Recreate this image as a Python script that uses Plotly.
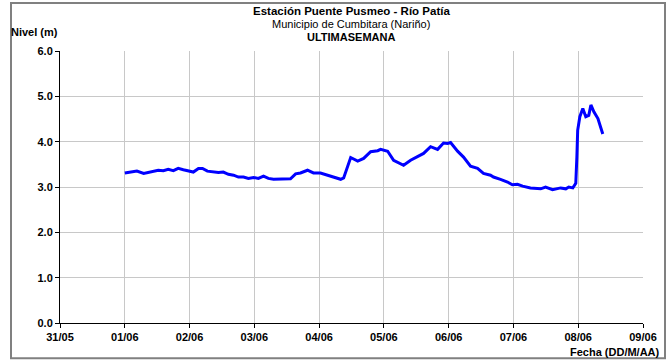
import pandas as pd
import plotly.graph_objects as go

# Hours after 01/06 00:00 and river level (m)
hours = [0, 2, 4.5, 7, 9.5, 10.6, 12.4, 14.3, 16.1, 18, 19.8, 21.7, 23.6, 25.4, 27.3, 28.8,
         30.6, 32.8, 34.7, 36.5, 38.4, 40.3, 42.1, 44, 45.8, 47.7, 49.5, 51.4, 53.2, 55.1,
         57.7, 59.6, 61.4, 63.3, 65.1, 67.7, 69.9, 72.5, 75.1, 77.4, 80, 81.1, 82.6, 83.7,
         86.3, 88.5, 91.1, 93.7, 94.8, 97.4, 99.6, 102.2, 103.3, 105.9, 108.5, 110.7, 113.3,
         115.9, 118.1, 119.6, 120.7, 123.3, 125.5, 128.1, 130.7, 132.9, 135.5, 136.6, 139.2,
         141.8, 143.6, 145.5, 147.4, 150.3, 154.1, 155.9, 158.5, 161.5, 163.4, 164.5, 166,
         167.1, 167.5, 167.8, 168.6, 169.3, 169.7, 170.8, 171.9, 172.7, 173.8, 175.3, 176.8, 177.1]
nivel = [3.31, 3.33, 3.35, 3.30, 3.33, 3.36, 3.37, 3.36, 3.39, 3.36, 3.41, 3.38, 3.36, 3.33, 3.41, 3.41,
         3.35, 3.33, 3.32, 3.33, 3.28, 3.26, 3.22, 3.22, 3.19, 3.21, 3.19, 3.24, 3.19, 3.17,
         3.17, 3.17, 3.18, 3.29, 3.31, 3.37, 3.31, 3.31, 3.26, 3.22, 3.17, 3.20, 3.44, 3.65,
         3.57, 3.63, 3.78, 3.80, 3.83, 3.79, 3.59, 3.52, 3.48, 3.59, 3.68, 3.74, 3.89,
         3.83, 3.97, 3.96, 3.98, 3.79, 3.66, 3.46, 3.41, 3.30, 3.26, 3.22, 3.17,
         3.11, 3.05, 3.06, 3.02, 2.98, 2.96, 3.00, 2.94, 2.98, 2.96, 3.00, 2.98,
         3.08, 3.66, 4.25, 4.55, 4.66, 4.73, 4.55, 4.58, 4.81, 4.66, 4.51, 4.25, 4.17]

start = pd.Timestamp("2021-06-01 00:00")
fechas = start + pd.to_timedelta(hours, unit="h")

x_range = ["2021-05-31", "2021-06-09"]
y_ticks = [0, 1, 2, 3, 4, 5, 6]
y_tick_labels = ["0.0", "1.0", "2.0", "3.0", "4.0", "5.0", "6.0"]

titulo = "Estación Puente Pusmeo - Río Patía"
subtitulo = "Municipio de Cumbitara (Nariño)"
periodo = "ULTIMASEMANA"

FONT = "Liberation Sans, Arial, sans-serif"

fig = go.Figure()
fig.add_trace(go.Scatter(x=fechas, y=nivel, mode="lines",
                         line=dict(color="#0000ff", width=3), showlegend=False))

W, H = 668, 360
L, R, T, B = 60, 25, 51, 37.3
pw, ph = W - L - R, H - T - B

def px(x):
    return (x - L) / pw

def py(y):
    return (H - B - y) / ph

fig.update_layout(
    width=W, height=H,
    margin=dict(l=L, r=R, t=T, b=B),
    paper_bgcolor="white", plot_bgcolor="white",
    font=dict(family=FONT, size=11, color="black"),
    xaxis=dict(type="date", range=x_range, dtick=86400000, tickformat="%d/%m",
               showgrid=True, gridcolor="#c8c8c8", gridwidth=1,
               showline=True, linecolor="black", linewidth=1,
               ticks="outside", ticklen=4, tickcolor="black",
               tickfont=dict(family=FONT, size=11, color="black", weight="bold"),
               zeroline=False, fixedrange=True),
    yaxis=dict(range=[0, 6], tickvals=y_ticks, ticktext=y_tick_labels,
               showgrid=True, gridcolor="#c8c8c8", gridwidth=1,
               showline=True, linecolor="black", linewidth=1,
               ticks="outside", ticklen=4, tickcolor="black",
               tickfont=dict(family=FONT, size=11, color="black", weight="bold"),
               zeroline=False, fixedrange=True),
    shapes=[dict(type="rect", xref="paper", yref="paper",
                 x0=px(11), x1=px(665), y0=py(358), y1=py(3),
                 line=dict(color="#808080", width=2), layer="above")],
    annotations=[
        dict(text="<b>" + titulo + "</b>", x=px(351), y=py(11), xref="paper", yref="paper",
             showarrow=False, xanchor="center", yanchor="middle", font=dict(size=11.5)),
        dict(text=subtitulo, x=px(351), y=py(24), xref="paper", yref="paper",
             showarrow=False, xanchor="center", yanchor="middle", font=dict(size=11)),
        dict(text="<b>" + periodo + "</b>", x=px(351), y=py(37), xref="paper", yref="paper",
             showarrow=False, xanchor="center", yanchor="middle", font=dict(size=11)),
        dict(text="<b>Nivel (m)</b>", x=px(9), y=py(32), xref="paper", yref="paper",
             showarrow=False, xanchor="left", yanchor="middle", font=dict(size=11)),
        dict(text="<b>Fecha (DD/M/AA)</b>", x=px(662), y=py(352), xref="paper", yref="paper",
             showarrow=False, xanchor="right", yanchor="middle", font=dict(size=11)),
    ],
)

fig.write_html("out.html", config={"displayModeBar": False},
               post_script="document.body.style.margin='0';document.body.style.overflow='hidden';")
